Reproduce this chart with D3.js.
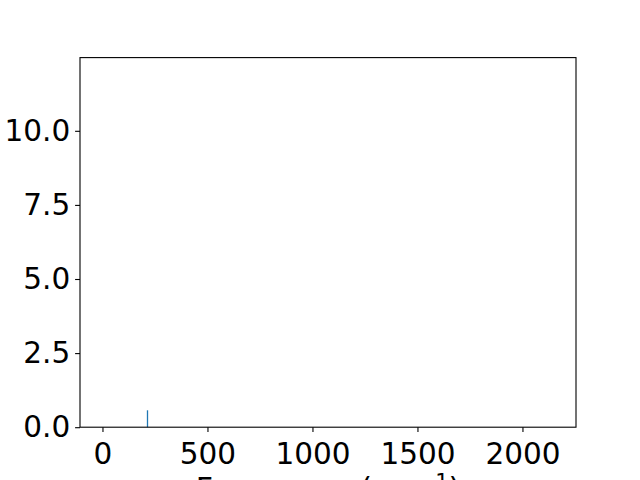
<!DOCTYPE html>
<html>
<head>
<meta charset="utf-8">
<script src="https://cdn.jsdelivr.net/npm/d3@7"></script>
<style>
  body { margin: 0; background: #fff; }
  svg { display: block; }
</style>
</head>
<body>
<div id="chart-area"></div>
<script>
// Spectrum lines (frequency in cm^-1, intensity)
var frequencies = [214];
var intensities = [0.57];
var xTicks = [0, 500, 1000, 1500, 2000];
var yTicks = [0, 2.5, 5.0, 7.5, 10.0];

var margin = { left: 80, right: 64, top: 57.6, bottom: 52.8 },
    width = 640 - margin.left - margin.right,
    height = 480 - margin.top - margin.bottom;

var svg = d3.select("#chart-area").append("svg")
    .attr("width", 640)
    .attr("height", 480);

var g = svg.append("g")
    .attr("transform", "translate(" + margin.left + "," + margin.top + ")");

// Scales
var x = d3.scaleLinear().domain([-107, 2255]).range([0, width]);
var y = d3.scaleLinear().domain([0, 12.47]).range([height, 0]);

// Lines
g.selectAll(".peak")
    .data(frequencies)
    .enter().append("line")
    .attr("class", "peak")
    .attr("x1", function(d){ return Math.round(x(d)) + 0.5; })
    .attr("x2", function(d){ return Math.round(x(d)) + 0.5; })
    .attr("y1", y(0))
    .attr("y2", function(d, i){ return y(intensities[i]); })
    .attr("stroke", "#1f77b4")
    .attr("stroke-width", 1.3);

// Axes
var xAxis = g.append("g")
    .attr("transform", "translate(0," + height + ")")
    .call(d3.axisBottom(x).tickValues(xTicks).tickFormat(d3.format("d"))
        .tickSize(4.9).tickPadding(4.9).tickSizeOuter(0));

var yAxis = g.append("g")
    .call(d3.axisLeft(y).tickValues(yTicks).tickFormat(d3.format(".1f"))
        .tickSize(4.9).tickPadding(4.9).tickSizeOuter(0));

xAxis.select(".domain").remove();
yAxis.select(".domain").remove();
g.selectAll(".tick line").attr("stroke", "#000").attr("stroke-width", 1.1);
g.selectAll(".tick text")
    .attr("font-family", "DejaVu Sans, sans-serif")
    .attr("font-size", "29.5px")
    .attr("fill", "#000");
xAxis.selectAll(".tick text").attr("dy", "0.92em");

// Frame
g.append("rect")
    .attr("width", width)
    .attr("height", height)
    .attr("fill", "none")
    .attr("stroke", "#000")
    .attr("stroke-width", 1.1);

// Axis label (clipped by the bottom of the figure)
var xLabel = svg.append("text")
    .attr("x", margin.left + width / 2)
    .attr("y", 499)
    .attr("text-anchor", "middle")
    .attr("font-family", "DejaVu Sans, sans-serif")
    .attr("font-size", "30px");
xLabel.append("tspan").text("Frequency (cm");
xLabel.append("tspan").attr("font-size", "21px").attr("dy", -10).text("\u22121");
xLabel.append("tspan").attr("dy", 10).text(")");
</script>
</body>
</html>
